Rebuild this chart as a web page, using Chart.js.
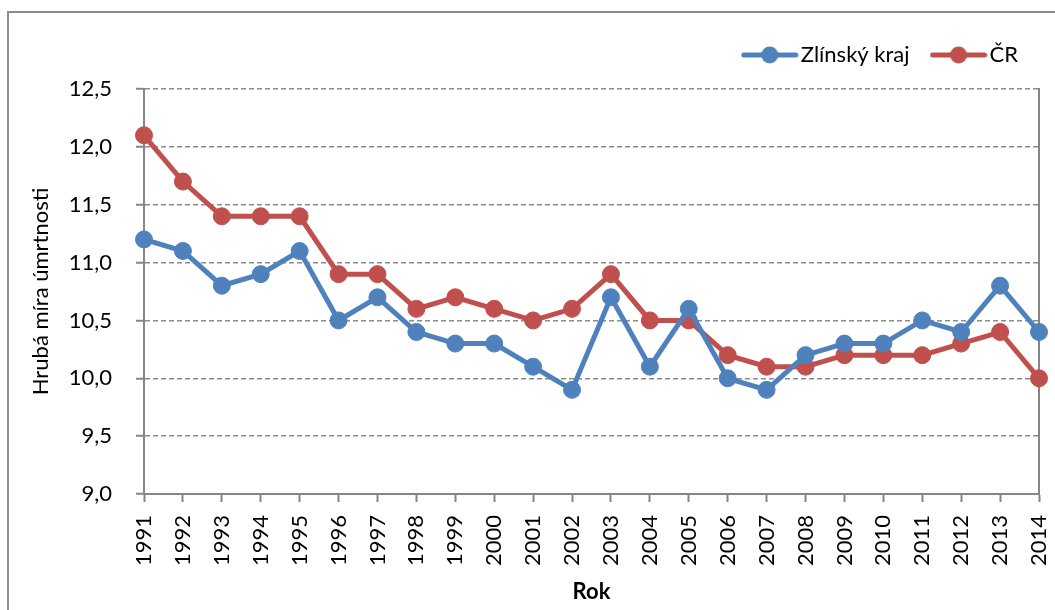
<!DOCTYPE html>
<html>
<head>
<meta charset="utf-8">
<script src="https://cdn.jsdelivr.net/npm/chart.js@4/dist/chart.umd.min.js"></script>
<style>
  html, body { margin: 0; padding: 0; background: #fff; overflow: hidden; }
  #wrap { position: relative; width: 1055px; height: 610px; }
  #frame {
    position: absolute; left: 7px; top: 11px; right: -10px; bottom: -10px;
    border: 2px solid #8c8c8c;
  }
  canvas { position: absolute; left: 0; top: 0; }
</style>
</head>
<body>
<div id="wrap">
  <div id="frame"></div>
  <canvas id="chart" width="1055" height="610"></canvas>
</div>
<script>
// Data
const years = ["1991", "1992", "1993", "1994", "1995", "1996", "1997", "1998",
  "1999", "2000", "2001", "2002", "2003", "2004", "2005", "2006", "2007",
  "2008", "2009", "2010", "2011", "2012", "2013", "2014"];
const zlinskyKraj = [11.2, 11.1, 10.8, 10.9, 11.1, 10.5, 10.7, 10.4, 10.3, 10.3,
  10.1, 9.9, 10.7, 10.1, 10.6, 10.0, 9.9, 10.2, 10.3, 10.3, 10.5, 10.4, 10.8, 10.4];
const cr = [12.1, 11.7, 11.4, 11.4, 11.4, 10.9, 10.9, 10.6, 10.7, 10.6, 10.5,
  10.6, 10.9, 10.5, 10.5, 10.2, 10.1, 10.1, 10.2, 10.2, 10.2, 10.3, 10.4, 10.0];
const seriesNames = ["Zlínský kraj", "ČR"];
const yMin = 9.0, yMax = 12.5, yStep = 0.5;

const blue = "#4f81bd";
const red = "#c0504d";
const axisGray = "#868686";
const FONT = "Lato, 'Open Sans', sans-serif";

// Legend symbol: line with a dot
function legendSymbol(color) {
  const c = document.createElement("canvas");
  c.width = 58;
  c.height = 20;
  const g = c.getContext("2d");
  g.strokeStyle = color;
  g.lineWidth = 5;
  g.lineCap = "round";
  g.beginPath();
  g.moveTo(3, 10);
  g.lineTo(55, 10);
  g.stroke();
  g.fillStyle = color;
  g.beginPath();
  g.arc(29, 10, 8.5, 0, Math.PI * 2);
  g.fill();
  return c;
}
const symbols = [legendSymbol(blue), legendSymbol(red)];

function makeDataset(label, data, color) {
  return {
    label: label,
    data: data,
    borderColor: color,
    backgroundColor: color,
    borderWidth: 5,
    pointRadius: 8.5,
    pointHoverRadius: 8.5,
    pointBorderWidth: 1,
    pointBackgroundColor: color,
    pointBorderColor: color,
    tension: 0,
    xAxisID: "x",
    yAxisID: "y",
  };
}

const ctx = document.getElementById("chart");
const chart = new Chart(ctx, {
  type: "line",
  data: {
    labels: years,
    datasets: [
      makeDataset(seriesNames[0], zlinskyKraj, blue),
      makeDataset(seriesNames[1], cr, red),
    ],
  },
  options: {
    responsive: false,
    animation: false,
    layout: { padding: { top: 15, right: 8, bottom: 5, left: 20 } },
    plugins: {
      tooltip: { enabled: false },
      legend: {
        position: "top",
        align: "end",
        labels: {
          color: "#000",
          font: { family: FONT, size: 22 },
          padding: 29,
          usePointStyle: true,
          pointStyleWidth: 40,
          generateLabels: (chart) => {
            const items = Chart.defaults.plugins.legend.labels.generateLabels(chart);
            items.forEach((it, i) => { it.pointStyle = symbols[i]; });
            return items;
          },
        },
      },
    },
    scales: {
      y: {
        type: "linear",
        position: "left",
        min: yMin,
        max: yMax,
        ticks: {
          stepSize: yStep,
          color: "#000",
          padding: 24,
          font: { family: FONT, size: 22 },
          callback: (v) => v.toFixed(1).replace(".", ","),
        },
        grid: {
          color: "#8c8c8c",
          lineWidth: 1.5,
          tickLength: 8,
          tickColor: axisGray,
          tickWidth: 2,
        },
        border: { display: true, color: axisGray, width: 2, dash: [5, 3] },
        title: {
          display: true,
          text: "Hrubá míra úmrtnosti",
          color: "#000",
          font: { family: FONT, size: 22 },
          padding: { top: 8, bottom: 0 },
        },
        afterFit: (s) => { s.width = 124; },
      },
      y2: {
        type: "linear",
        position: "right",
        display: true,
        grid: { display: false, drawTicks: false },
        ticks: { display: false },
        border: { display: true, color: axisGray, width: 2 },
        afterFit: (s) => { s.width = 8; },
      },
      x: {
        type: "category",
        position: "bottom",
        offset: false,
        ticks: {
          color: "#000",
          padding: 13,
          minRotation: 90,
          maxRotation: 90,
          autoSkip: false,
          font: { family: FONT, size: 22 },
        },
        grid: {
          offset: false,
          drawOnChartArea: false,
          drawTicks: true,
          tickLength: 8,
          tickColor: axisGray,
          tickWidth: 2,
        },
        border: { display: true, color: axisGray, width: 2 },
        title: {
          display: true,
          text: "Rok",
          color: "#000",
          font: { family: FONT, size: 22, weight: "bold" },
          padding: { top: 0, bottom: 0 },
        },
        afterFit: (s) => {
          s.height = 111;
          s.paddingLeft = 0;
          s.paddingRight = 0;
        },
      },
      x2: {
        type: "category",
        position: "top",
        display: true,
        grid: { display: false, drawTicks: false },
        ticks: { display: false },
        border: { display: false },
        afterFit: (s) => { s.height = 13; },
      },
    },
  },
});
</script>
</body>
</html>
